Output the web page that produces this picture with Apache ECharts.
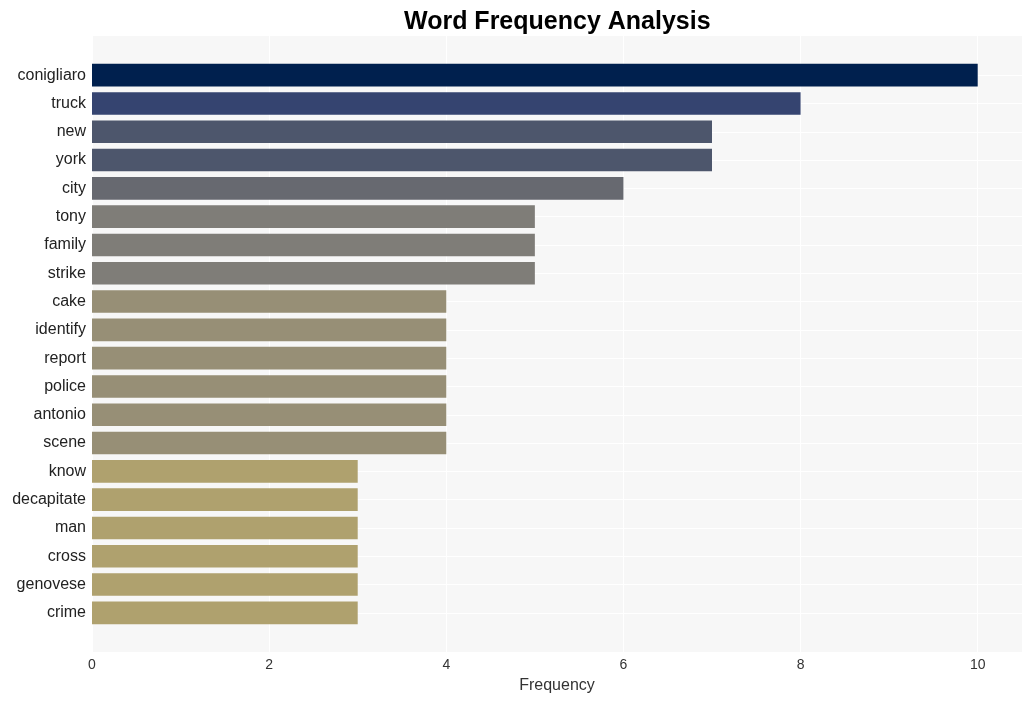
<!DOCTYPE html>
<html><head><meta charset="utf-8">
<script src="https://cdn.jsdelivr.net/npm/echarts@6/dist/echarts.min.js"></script>
<style>html,body{margin:0;padding:0;background:#fff}#c{width:1031px;height:701px}</style>
</head><body><div id="c"></div>
<script>
var categories = ['conigliaro','truck','new','york','city','tony','family','strike','cake','identify','report','police','antonio','scene','know','decapitate','man','cross','genovese','crime'];
var values = [10,8,7,7,6,5,5,5,4,4,4,4,4,4,3,3,3,3,3,3];
var colors = ['#00204e','#354470','#4d566c','#4d566c','#676970','#7f7d78','#7f7d78','#7f7d78','#978f76','#978f76','#978f76','#978f76','#978f76','#978f76','#afa16e','#afa16e','#afa16e','#afa16e','#afa16e','#afa16e'];
var xTicks = [0,2,4,6,8,10];

var chart = echarts.init(document.getElementById('c'), null, {renderer:'canvas'});
var font = '"Liberation Sans", Arial, sans-serif';
chart.setOption({
  animation:false,
  title:{text:'Word Frequency Analysis', left:399, top:5,
    textStyle:{fontFamily:font, fontSize:25, fontWeight:'bold', color:'#000'}},
  grid:[
    {left:92, right:9, top:36, bottom:49, show:true, backgroundColor:'#f7f7f7', borderWidth:0},
    {left:92, right:9, top:61, bottom:74}
  ],
  xAxis:[
    {gridIndex:0, type:'value', min:0, max:10.5, interval:2,
     name:'Frequency', nameLocation:'middle', nameGap:26,
     nameTextStyle:{fontFamily:font, fontSize:16, color:'#333'},
     axisLine:{show:false}, axisTick:{show:false},
     axisLabel:{fontFamily:font, fontSize:14, color:'#333', margin:6,
       formatter:function(v){return xTicks.indexOf(v)>=0?String(v):'';}},
     splitLine:{show:true, lineStyle:{color:'#ffffff', width:1}}},
    {gridIndex:1, type:'value', min:0, max:10.5, show:false}
  ],
  yAxis:[
    {gridIndex:0, type:'value', show:false},
    {gridIndex:1, type:'category', data:categories, inverse:true,
     axisLine:{show:false}, axisTick:{show:false},
     axisLabel:{fontFamily:font, fontSize:16, color:'#222', margin:6, padding:[5,0,0,0]},
     splitLine:{show:false}}
  ],
  series:[
    {type:'line', xAxisIndex:1, yAxisIndex:1, data:[], zlevel:0, z:1, silent:true,
     markLine:{symbol:'none', silent:true, label:{show:false},
       lineStyle:{color:'#ffffff', width:1, type:'solid'},
       data:categories.map(function(c){return {yAxis:c};})}},
    {type:'bar', xAxisIndex:1, yAxisIndex:1, zlevel:1, z:2, barCategoryGap:'20%',
     data:values.map(function(v,i){return {value:v, itemStyle:{color:colors[i]}};})}
  ]
});
</script></body></html>
